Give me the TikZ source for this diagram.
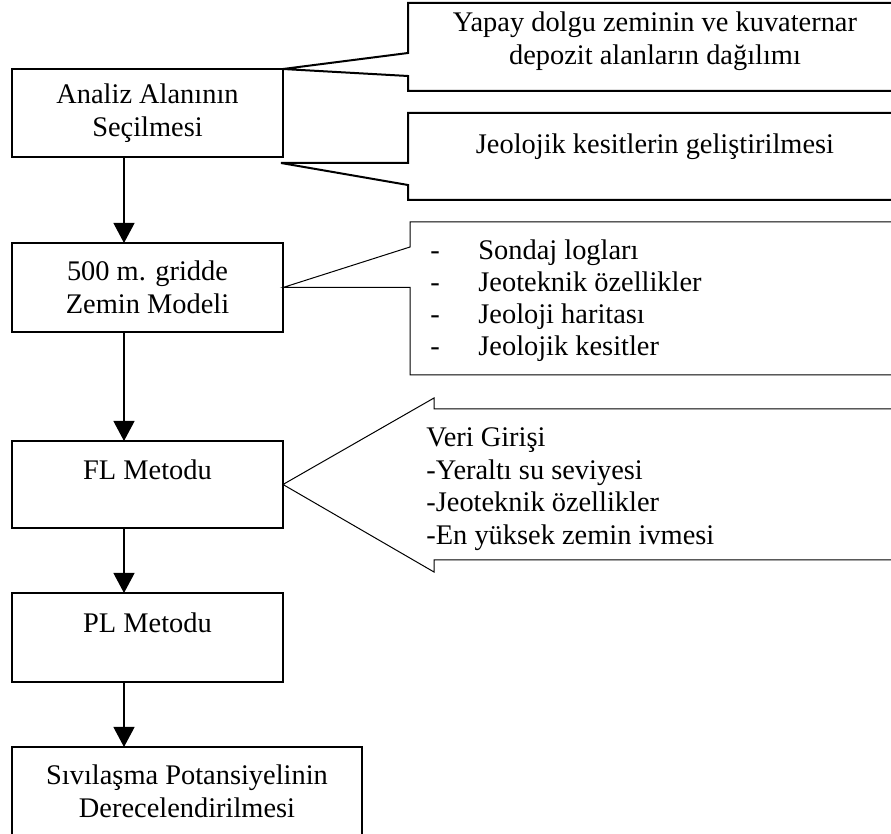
\documentclass[tikz,border=0pt]{standalone}
\usepackage{fontspec}
\setmainfont{Liberation Serif}
\usetikzlibrary{arrows.meta}

\begin{document}
\begin{tikzpicture}[x=0.5pt,y=-0.5pt]
    \tikzstyle{stepbox}=[draw, line width=0.75pt, inner sep=0pt, outer sep=0pt
    , align=center, font=\fontsize{14.2}{16.5}\selectfont]
    \tikzstyle{flow}=[-{Triangle[width=10.5pt,length=10pt]}, line width=0.6pt]
    \tikzstyle{thickcall}=[line width=1pt]
    \tikzstyle{thincall}=[line width=0.5pt]
    \tikzstyle{note}=[inner sep=0pt, align=left, font=\fontsize{14.2}{16.5}\selectfont]
    \useasboundingbox (0,0) rectangle (891,834);
    \clip (0,0) rectangle (891,834);
    % Draw the boxes
    \node[stepbox, minimum width=135.5pt, minimum height=44pt] (alan) at (147.5,113) {Analiz Alanının\\Seçilmesi};
    \node[stepbox, minimum width=135.5pt, minimum height=44.5pt] (zemin) at (147.5,287.5) {500 m. gridde\\Zemin Modeli};
    \node[stepbox, minimum width=135.5pt, minimum height=43.5pt
    , text height=10pt, text depth=14.5pt] (fl) at (147.5,484.5) {FL Metodu};
    \node[stepbox, minimum width=135.5pt, minimum height=44.5pt
    , text height=10pt, text depth=14.5pt] (pl) at (147.5,637.5) {PL Metodu};
    \node[stepbox, minimum width=175pt, minimum height=44pt] (sivi) at (187,791) {Sıvılaşma Potansiyelinin\\Derecelendirilmesi};
    % Draw the arrows
    \coordinate (ax) at (124,0);
    \draw[flow] (alan.south -| ax) -- (zemin.north -| ax);
    \draw[flow] (zemin.south -| ax) -- (fl.north -| ax);
    \draw[flow] (fl.south -| ax) -- (pl.north -| ax);
    \draw[flow] (pl.south -| ax) -- (sivi.north -| ax);
    % Callouts
    \coordinate (jtip) at (281,163);
    \draw[thickcall] (895,3) -- (408,3) -- (408,53) -- (alan.north east) -- (408,76) -- (408,91) -- (895,91);
    \draw[thickcall] (895,113) -- (408,113) -- (408,163) -- (jtip) -- (408,185) -- (408,200) -- (895,200);
    \draw[thincall] (895,222) -- (410,222) -- (410,247) -- (zemin.east) -- (410,287.5) -- (410,375) -- (895,375);
    \draw[thincall] (895,409) -- (434,409) -- (434,398) -- (fl.east) -- (434,572) -- (434,560) -- (895,560);
    % Labels
    \node[note, align=center] (yapay) at (655,41) {Yapay dolgu zeminin ve kuvaternar\\depozit alanların dağılımı};
    \node[note, align=center] (kesit) at (655,147) {Jeolojik kesitlerin geliştirilmesi};
    \node[note, anchor=west, font=\fontsize{14.2}{16}\selectfont] (veri1) at (430,301)
    {\makebox[24pt][l]{-}Sondaj logları\\\makebox[24pt][l]{-}Jeoteknik özellikler\\
    \makebox[24pt][l]{-}Jeoloji haritası\\\makebox[24pt][l]{-}Jeolojik kesitler};
    \node[note, anchor=west, font=\fontsize{14.2}{16.25}\selectfont] (veri2) at (426,489)
    {Veri Girişi\\-Yeraltı su seviyesi\\-Jeoteknik özellikler\\-En yüksek zemin ivmesi};
\end{tikzpicture}
\end{document}
